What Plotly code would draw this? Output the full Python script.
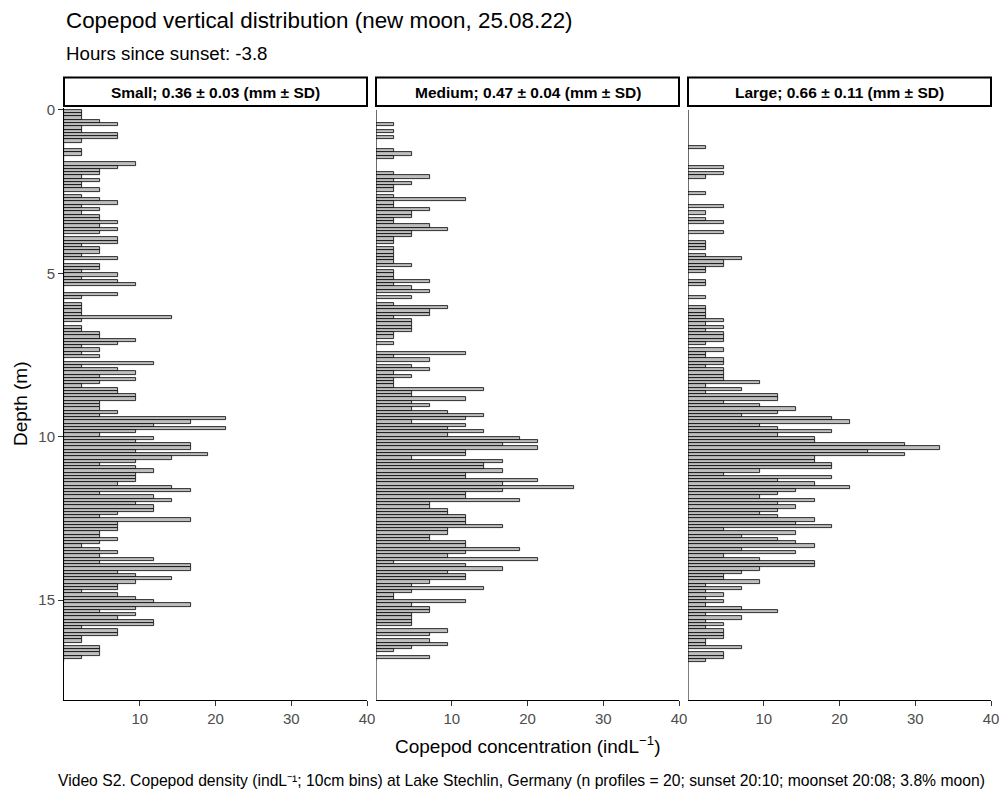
import plotly.graph_objects as go

# ---------------- data ----------------
# depth bins (10 cm), bin centres in metres
DEPTH = [round(0.05 + 0.1 * i, 2) for i in range(169)]

PANEL_LABELS = [
    "Small; 0.36 ± 0.03 (mm ± SD)",
    "Medium; 0.47 ± 0.04 (mm ± SD)",
    "Large; 0.66 ± 0.11 (mm ± SD)",
]

SMALL = [
    2.4, 2.4, 2.4, 4.8, 7.1, 2.4, 2.4, 7.1, 7.1, 2.4,
    0, 0, 2.4, 2.4, 0, 0, 9.5, 7.1, 4.8, 4.8,
    2.4, 4.8, 2.4, 2.4, 4.8, 0, 2.4, 4.8, 7.1, 2.4,
    4.8, 2.4, 4.8, 4.8, 7.1, 4.8, 7.1, 4.8, 0, 7.1,
    7.1, 2.4, 4.8, 4.8, 2.4, 7.1, 0, 4.8, 4.8, 2.4,
    7.1, 2.4, 7.1, 9.5, 0, 0, 7.1, 2.4, 0, 2.4,
    2.4, 2.4, 2.4, 14.3, 2.4, 0, 2.4, 2.4, 4.8, 4.8,
    9.5, 7.1, 2.4, 4.8, 2.4, 4.8, 0, 11.9, 2.4, 7.1,
    9.5, 4.8, 9.5, 4.8, 2.4, 7.1, 7.1, 9.5, 9.5, 4.8,
    4.8, 4.8, 7.1, 4.8, 21.4, 16.7, 11.9, 21.4, 9.5, 4.8,
    11.9, 9.5, 16.7, 16.7, 9.5, 19.0, 14.3, 9.5, 4.8, 9.5,
    11.9, 9.5, 9.5, 9.5, 7.1, 14.3, 16.7, 4.8, 11.9, 14.3,
    9.5, 11.9, 11.9, 7.1, 4.8, 16.7, 7.1, 7.1, 7.1, 4.8,
    4.8, 7.1, 4.8, 2.4, 4.8, 7.1, 4.8, 11.9, 4.8, 16.7,
    16.7, 7.1, 9.5, 14.3, 9.5, 7.1, 7.1, 2.4, 7.1, 9.5,
    11.9, 16.7, 9.5, 4.8, 9.5, 7.1, 11.9, 11.9, 2.4, 7.1,
    7.1, 2.4, 2.4, 0, 4.8, 4.8, 4.8, 2.4, 0,
]

MEDIUM = [
    0, 0, 0, 0, 2.4, 0, 2.4, 0, 2.4, 0,
    0, 0, 2.4, 4.8, 2.4, 0, 0, 0, 0, 2.4,
    7.1, 2.4, 4.8, 2.4, 2.4, 0, 2.4, 11.9, 2.4, 2.4,
    7.1, 4.8, 4.8, 2.4, 2.4, 7.1, 9.5, 4.8, 4.8, 2.4,
    2.4, 0, 2.4, 2.4, 2.4, 2.4, 2.4, 4.8, 0, 2.4,
    2.4, 2.4, 7.1, 2.4, 4.8, 7.1, 0, 4.8, 0, 2.4,
    9.5, 7.1, 7.1, 2.4, 4.8, 4.8, 4.8, 4.8, 2.4, 2.4,
    0, 2.4, 0, 0, 11.9, 2.4, 7.1, 0, 4.8, 7.1,
    2.4, 4.8, 2.4, 2.4, 2.4, 14.3, 4.8, 4.8, 11.9, 4.8,
    7.1, 4.8, 9.5, 14.3, 11.9, 4.8, 11.9, 9.5, 14.3, 9.5,
    19.0, 21.4, 16.7, 21.4, 11.9, 11.9, 4.8, 16.7, 14.3, 14.3,
    16.7, 11.9, 11.9, 21.4, 16.7, 26.2, 16.7, 11.9, 11.9, 19.0,
    7.1, 7.1, 9.5, 9.5, 11.9, 11.9, 11.9, 16.7, 9.5, 9.5,
    7.1, 7.1, 11.9, 11.9, 19.0, 11.9, 9.5, 21.4, 2.4, 11.9,
    16.7, 9.5, 11.9, 11.9, 7.1, 4.8, 14.3, 4.8, 2.4, 2.4,
    11.9, 4.8, 7.1, 7.1, 4.8, 4.8, 4.8, 4.8, 0, 9.5,
    7.1, 0, 7.1, 9.5, 4.8, 2.4, 0, 7.1, 0,
]

LARGE = [
    0, 0, 0, 0, 0, 0, 0, 0, 0, 0,
    0, 2.4, 0, 0, 0, 0, 0, 4.8, 0, 4.8,
    2.4, 0, 0, 0, 0, 2.4, 0, 0, 0, 4.8,
    0, 2.4, 0, 2.4, 4.8, 0, 0, 4.8, 0, 0,
    2.4, 2.4, 2.4, 0, 2.4, 7.1, 4.8, 4.8, 2.4, 2.4,
    0, 0, 2.4, 2.4, 0, 0, 0, 2.4, 0, 0,
    2.4, 2.4, 2.4, 2.4, 4.8, 2.4, 4.8, 2.4, 4.8, 4.8,
    4.8, 2.4, 0, 4.8, 2.4, 2.4, 4.8, 4.8, 2.4, 4.8,
    4.8, 4.8, 4.8, 9.5, 2.4, 7.1, 2.4, 11.9, 11.9, 4.8,
    9.5, 14.3, 11.9, 7.1, 19.0, 21.4, 9.5, 11.9, 19.0, 11.9,
    16.7, 16.7, 28.6, 33.3, 23.8, 28.6, 16.7, 16.7, 19.0, 19.0,
    9.5, 4.8, 19.0, 11.9, 16.7, 21.4, 14.3, 11.9, 9.5, 16.7,
    11.9, 14.3, 11.9, 9.5, 11.9, 16.7, 14.3, 19.0, 4.8, 14.3,
    7.1, 11.9, 14.3, 16.7, 7.1, 14.3, 4.8, 9.5, 16.7, 16.7,
    9.5, 7.1, 4.8, 4.8, 9.5, 2.4, 7.1, 2.4, 4.8, 2.4,
    4.8, 2.4, 7.1, 11.9, 2.4, 7.1, 2.4, 4.8, 2.4, 4.8,
    4.8, 4.8, 2.4, 2.4, 7.1, 0, 4.8, 4.8, 2.4,
]

X_TICKS = [10, 20, 30, 40]
Y_TICKS = [0, 5, 10, 15]

TITLE = "Copepod vertical distribution (new moon, 25.08.22)"
SUBTITLE = "Hours since sunset: -3.8"
X_TITLE = "Copepod concentration (indL<sup>−1</sup>)"
Y_TITLE = "Depth (m)"
CAPTION = ("Video S2. Copepod density (indL⁻¹; 10cm bins) at Lake Stechlin, Germany "
           "(n profiles = 20; sunset 20:10; moonset 20:08; 3.8% moon)")

# ---------------- figure ----------------
W, H = 1000, 800
plot_left, plot_right = 64, 991
plot_top, plot_bot = 108, 700
L, T = plot_left, plot_top
plot_w = plot_right - plot_left
plot_h = plot_bot - plot_top
R = W - L - plot_w
B = H - T - plot_h
gap = 9
panel_w = (plot_w - 2 * gap) / 3
domains = []
for i in range(3):
    x0 = i * (panel_w + gap)
    domains.append([x0 / plot_w, (x0 + panel_w) / plot_w])


def py(pix):
    """pixel y -> paper y"""
    return (plot_bot - pix) / plot_h


def px(pix):
    """pixel x -> paper x"""
    return (pix - plot_left) / plot_w


FONT = "Liberation Sans, Arial, sans-serif"
fig = go.Figure()
series = [SMALL, MEDIUM, LARGE]
for i, vals in enumerate(series):
    fig.add_trace(go.Bar(
        x=vals, y=DEPTH, orientation="h", width=0.1,
        marker=dict(color="#BEBEBE", line=dict(color="black", width=0.8)),
        xaxis="x" if i == 0 else f"x{i+1}",
        yaxis="y" if i == 0 else f"y{i+1}",
        showlegend=False, hoverinfo="x+y",
    ))

layout = dict(
    width=W, height=H,
    margin=dict(l=L, r=R, t=T, b=B, pad=0, autoexpand=False),
    plot_bgcolor="white", paper_bgcolor="white",
    font=dict(family=FONT, color="black"),
    bargap=0,
)
tickfont = dict(family=FONT, size=15, color="#4D4D4D")
for i in range(3):
    sx = "" if i == 0 else str(i + 1)
    layout[f"xaxis{sx}"] = dict(
        domain=domains[i], range=[0, 40], anchor=f"y{sx}",
        tickvals=X_TICKS, ticks="outside", ticklen=5, tickcolor="#333333",
        tickfont=tickfont, showline=True, linecolor="black", linewidth=1,
        showgrid=False, zeroline=False, automargin=False,
    )
    layout[f"yaxis{sx}"] = dict(
        domain=[0, 1], range=[18.06, -0.06], anchor=f"x{sx}",
        tickvals=Y_TICKS, ticks="outside" if i == 0 else "",
        ticklen=5, tickcolor="#333333",
        showticklabels=(i == 0), tickfont=tickfont,
        showline=(i == 0), linecolor="black", linewidth=1,
        showgrid=False, zeroline=False, automargin=False,
    )
fig.update_layout(**layout)

shapes = []
annotations = []
for i in range(3):
    sx = "" if i == 0 else str(i + 1)
    # strip box
    shapes.append(dict(
        type="rect", xref=f"x{sx} domain", yref=f"y{sx} domain",
        x0=0, x1=1, y0=py(106), y1=py(77.5),
        line=dict(color="black", width=2), fillcolor="white", layer="above",
    ))
    annotations.append(dict(
        xref=f"x{sx} domain", yref=f"y{sx} domain", x=0.5, y=py(93),
        text=f"<b>{PANEL_LABELS[i]}</b>", showarrow=False,
        font=dict(family=FONT, size=15.5, color="black"),
        xanchor="center", yanchor="middle",
    ))
    if i > 0:
        shapes.append(dict(
            type="line", xref=f"x{sx}", yref=f"y{sx}",
            x0=0, x1=0, y0=0, y1=18.06,
            line=dict(color="black", width=1), layer="above",
        ))

annotations += [
    dict(xref="paper", yref="paper", x=0, y=py(20.5), text=TITLE,
         showarrow=False, xanchor="left", yanchor="middle",
         font=dict(family=FONT, size=22.4, color="black")),
    dict(xref="paper", yref="paper", x=0, y=py(54), text=SUBTITLE,
         showarrow=False, xanchor="left", yanchor="middle",
         font=dict(family=FONT, size=18.7, color="black")),
    dict(xref="paper", yref="paper", x=0.5, y=py(745), text=X_TITLE,
         showarrow=False, xanchor="center", yanchor="middle",
         font=dict(family=FONT, size=19, color="black")),
    dict(xref="paper", yref="paper", x=px(20), y=py(404), text=Y_TITLE,
         showarrow=False, xanchor="center", yanchor="middle", textangle=-90,
         font=dict(family=FONT, size=19, color="black")),
    dict(xref="paper", yref="paper", x=px(987), y=py(780), text=CAPTION,
         showarrow=False, xanchor="right", yanchor="middle",
         font=dict(family=FONT, size=15.7, color="black")),
]
fig.update_layout(shapes=shapes, annotations=annotations)

# remove the default 8px page margin so the figure sits at the window origin
fig.write_html(
    "out.html",
    config={"displayModeBar": False},
    post_script="document.body.style.margin='0';document.body.style.overflow='hidden';",
)
